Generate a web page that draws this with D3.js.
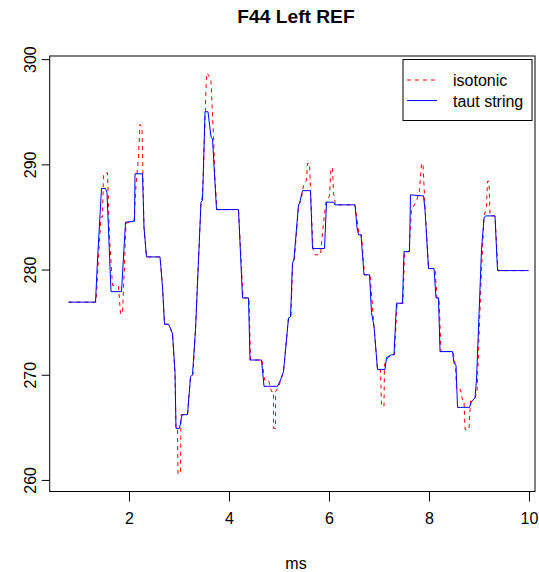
<!DOCTYPE html>
<html>
<head>
<meta charset="utf-8">
<script src="https://cdn.jsdelivr.net/npm/d3@7"></script>
<style>
  body { margin: 0; background: #fff; }
  text { font-family: "Liberation Sans", Arial, sans-serif; fill: #000; }
</style>
</head>
<body>
<script>
// chart values
var title = "F44 Left REF";
var xLabel = "ms";
var xTicks = [2, 4, 6, 8, 10];
var yTicks = [260, 270, 280, 290, 300];
var seriesNames = ["isotonic", "taut string"];

var isoX = [0.79, 1.34, 1.40, 1.44, 1.47, 1.49, 1.57, 1.61, 1.67, 1.79, 1.83, 1.87, 1.91, 1.94, 2.10, 2.14, 2.19, 2.22, 2.26, 2.30, 2.35,
    2.62, 2.67, 2.71, 2.79, 2.87, 2.92, 2.94, 2.97, 2.98, 3.03, 3.04, 3.17, 3.23, 3.28, 3.33, 3.44, 3.47, 3.50, 3.55, 3.59, 3.64,
    3.69, 3.72, 3.76, 4.19, 4.28, 4.40, 4.43, 4.66, 4.71, 4.79, 4.85, 4.89, 4.89, 4.93, 4.93, 4.99, 5.09, 5.19, 5.24, 5.27, 5.31,
    5.39, 5.44, 5.49, 5.55, 5.57, 5.61, 5.63, 5.68, 5.72, 5.83, 5.88, 5.94, 6.01, 6.04, 6.07, 6.09, 6.13, 6.52, 6.60, 6.65, 6.71,
    6.82, 6.90, 6.97, 7.03, 7.05, 7.10, 7.11, 7.19, 7.31, 7.36, 7.48, 7.51, 7.60, 7.65, 7.75, 7.81, 7.85, 7.88, 7.92, 7.99, 8.12,
    8.16, 8.20, 8.24, 8.48, 8.53, 8.55, 8.63, 8.67, 8.70, 8.72, 8.80, 8.83, 8.92, 8.96, 8.99, 9.05, 9.10, 9.15, 9.17, 9.20, 9.22,
    9.32, 9.38, 9.99];
var isoY = [276.9, 276.9, 282.0, 285.0, 285.0, 289.1, 289.2, 283.0, 278.5, 278.4, 275.8, 275.8, 280.5, 284.4, 284.6, 288.0, 290.7, 293.8, 293.5, 284.0, 281.2,
    281.2, 278.4, 274.8, 274.8, 273.9, 270.1, 264.9, 264.9, 260.6, 260.6, 266.2, 266.2, 269.8, 270.0, 274.3, 286.4, 287.0, 291.0, 298.7, 298.5, 297.9,
    292.6, 288.5, 285.7, 285.7, 277.3, 277.3, 271.4, 271.4, 269.5, 269.5, 268.4, 268.4, 264.9, 264.9, 268.4, 268.8, 270.3, 275.4, 275.5, 280.6, 281.0,
    286.1, 286.5, 288.0, 288.5, 290.1, 290.1, 287.5, 282.0, 281.4, 281.4, 284.0, 286.4, 287.0, 289.7, 289.6, 287.3, 286.15, 286.15, 283.3, 283.3, 279.5,
    279.5, 274.6, 270.5, 270.5, 267.0, 267.0, 271.0, 271.7, 271.9, 276.8, 276.8, 281.7, 281.7, 285.7, 286.5, 287.5, 290.1, 290.0, 286.0, 280.1, 280.1,
    277.3, 277.3, 272.2, 272.2, 270.9, 268.6, 268.6, 267.6, 267.6, 264.8, 264.8, 267.5, 267.8, 268.3, 272.4, 280.0, 285.0, 286.0, 288.4, 288.4, 285.1,
    285.1, 279.9, 279.9];

var tautX = [0.79, 1.33, 1.37, 1.45, 1.53, 1.56, 1.64, 1.85, 1.93, 2.11, 2.12, 2.27, 2.30, 2.35, 2.62, 2.67, 2.71, 2.79, 2.83, 2.87, 2.92, 2.94,
    3.01, 3.06, 3.17, 3.23, 3.27, 3.33, 3.44, 3.47, 3.52, 3.58, 3.64, 3.67, 3.75, 4.19, 4.27, 4.39, 4.42, 4.65, 4.70, 4.97, 5.03, 5.09,
    5.19, 5.23, 5.27, 5.30, 5.39, 5.41, 5.47, 5.63, 5.67, 5.91, 5.95, 6.09, 6.12, 6.52, 6.56, 6.59, 6.64, 6.70, 6.81, 6.85, 6.90, 6.97,
    7.12, 7.15, 7.17, 7.25, 7.30, 7.35, 7.47, 7.50, 7.61, 7.63, 7.89, 7.92, 7.99, 8.10, 8.14, 8.19, 8.22, 8.47, 8.50, 8.54, 8.57, 8.81,
    8.85, 8.92, 8.95, 9.05, 9.10, 9.13, 9.32, 9.37, 9.99];
var tautY = [276.9, 276.9, 280.9, 287.7, 287.7, 287.3, 277.9, 277.9, 284.5, 284.6, 289.1, 289.1, 284.0, 281.2, 281.2, 278.4, 274.8, 274.8, 274.4, 273.9, 270.2, 264.9,
    264.9, 266.2, 266.2, 269.8, 270.0, 274.3, 286.4, 286.6, 295.0, 295.0, 292.6, 292.4, 285.7, 285.7, 277.3, 277.3, 271.4, 271.4, 268.9, 268.9, 269.5, 270.3,
    275.4, 275.5, 280.6, 281.0, 286.15, 286.3, 287.5, 287.5, 282.0, 282.0, 286.4, 286.4, 286.15, 286.15, 284.0, 283.3, 283.3, 279.5, 279.5, 275.9, 274.6, 270.5,
    270.5, 271.6, 271.7, 271.9, 271.9, 276.8, 276.8, 281.7, 281.7, 287.1, 287.0, 285.7, 280.1, 280.1, 277.3, 277.3, 272.2, 272.2, 271.1, 270.9, 266.9, 266.9,
    267.45, 267.8, 269.5, 281.9, 284.9, 285.1, 285.1, 279.9, 279.9];

var W = 539, H = 572;
var plot = { left: 49.7, right: 535, top: 56, bottom: 491.5 };

var x = d3.scaleLinear().domain([0.414, 10.12]).range([plot.left, plot.right]);
var y = d3.scaleLinear().domain([258.9, 300.3]).range([plot.bottom, plot.top]);

var svg = d3.select("body").append("svg")
    .attr("width", W)
    .attr("height", H);

// 标题 / title
svg.append("text")
    .attr("x", 296).attr("y", 23)
    .attr("text-anchor", "middle")
    .style("font-size", "19.2px").style("font-weight", "bold")
    .text(title);

// axes
var xAxis = d3.axisBottom(x).tickValues(xTicks).tickSize(10).tickPadding(6).tickSizeOuter(0);
var yAxis = d3.axisLeft(y).tickValues(yTicks).tickSize(8).tickSizeOuter(0);

var gx = svg.append("g")
    .attr("transform", "translate(0," + plot.bottom + ")")
    .call(xAxis);
gx.select(".domain").remove();
gx.selectAll("line").attr("stroke", "#000");
gx.selectAll("text").style("font-size", "16px").attr("font-family", null).attr("dy", "1.05em");

var gy = svg.append("g")
    .attr("transform", "translate(" + plot.left + ",0)")
    .call(yAxis);
gy.select(".domain").remove();
gy.selectAll("line").attr("stroke", "#000");
gy.selectAll("text")
    .attr("font-family", null)
    .style("font-size", "16px")
    .attr("x", null).attr("dy", null)
    .attr("text-anchor", "middle")
    .attr("transform", "translate(-14,0) rotate(-90)");

svg.append("text")
    .attr("x", 296).attr("y", 569)
    .attr("text-anchor", "middle")
    .style("font-size", "16px")
    .text(xLabel);

// lines
var clip = svg.append("clipPath").attr("id", "clip")
    .append("rect")
    .attr("x", plot.left).attr("y", plot.top)
    .attr("width", plot.right - plot.left).attr("height", plot.bottom - plot.top);

var line = d3.line()
    .x(function (d) { return x(d[0]); })
    .y(function (d) { return y(d[1]); });

svg.append("path")
    .datum(d3.zip(isoX, isoY))
    .attr("clip-path", "url(#clip)")
    .attr("d", line)
    .attr("fill", "none")
    .attr("stroke", "#ff0000")
    .attr("stroke-width", 1)
    .attr("stroke-dasharray", "4,4");

svg.append("path")
    .datum(d3.zip(tautX, tautY))
    .attr("clip-path", "url(#clip)")
    .attr("d", line)
    .attr("fill", "none")
    .attr("stroke", "#0000ff")
    .attr("stroke-width", 1);

// frame
svg.append("rect")
    .attr("x", plot.left).attr("y", plot.top)
    .attr("width", plot.right - plot.left).attr("height", plot.bottom - plot.top)
    .attr("fill", "none").attr("stroke", "#000").attr("stroke-width", 1);

// legend
var legend = svg.append("g");
legend.append("rect")
    .attr("x", 403).attr("y", 59.5)
    .attr("width", 129).attr("height", 61)
    .attr("fill", "#fff").attr("stroke", "#000");

var legendItems = [
    { name: seriesNames[0], color: "#ff0000", dash: "4,4", y: 80 },
    { name: seriesNames[1], color: "#0000ff", dash: null, y: 100.5 }
];
legendItems.forEach(function (d) {
    legend.append("line")
        .attr("x1", 407).attr("x2", 437)
        .attr("y1", d.y).attr("y2", d.y)
        .attr("stroke", d.color)
        .attr("stroke-dasharray", d.dash);
    legend.append("text")
        .attr("x", 453).attr("y", d.y + 6)
        .style("font-size", "16px")
        .text(d.name);
});
</script>
</body>
</html>
